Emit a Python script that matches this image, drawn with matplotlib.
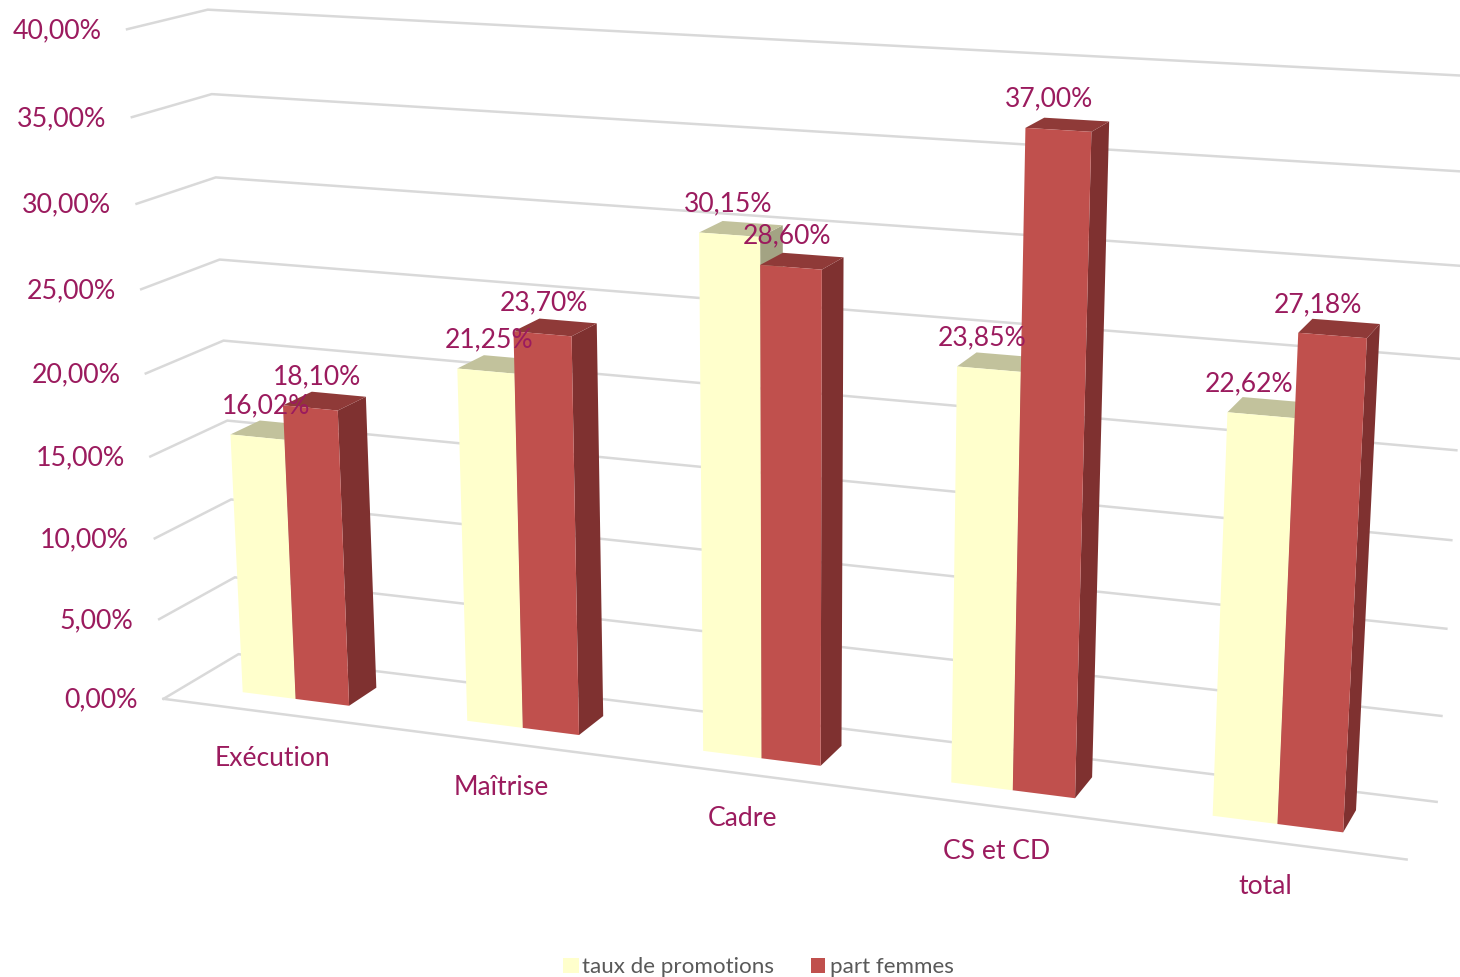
import numpy as np
import matplotlib
matplotlib.use("Agg")
import matplotlib.pyplot as plt
from matplotlib.patches import Polygon, Rectangle

categories = ["Exécution", "Maîtrise", "Cadre", "CS et CD", "total"]
taux_promotions = [16.02, 21.25, 30.15, 23.85, 22.62]
part_femmes = [18.10, 23.70, 28.60, 37.00, 27.18]
tick_values = [0, 5, 10, 15, 20, 25, 30, 35, 40]
series_names = ["taux de promotions", "part femmes"]

TEXT = "#9B1B5E"
plt.rcParams["font.family"] = ["Lato", "DejaVu Sans"]

# perspective camera of the 3-D chart: (u across, d into depth, v value) -> pixel
calib = [
    ((0, 0, 0), (163, 700)), ((1, 0, 0), (1407, 860)),
    ((0, 1, 0), (240, 655)), ((1, 1, 0), (1437, 803)),
    ((0, 1, 40), (208, 10)), ((0, 0, 40), (128, 31)),
    ((1, 1, 40), (1478, 77)), ((0, 1, 20), (222, 342)),
    ((0, 0, 20), (145, 374)), ((1, 1, 20), (1455, 452)),
]
A, b = [], []
for (u, d, v), (px, py) in calib:
    A.append([u, d, v, 1, 0, 0, 0, 0, -px*u, -px*d, -px*v])
    A.append([0, 0, 0, 0, u, d, v, 1, -py*u, -py*d, -py*v])
    b += [px, py]
p = np.linalg.lstsq(np.array(A, float), np.array(b, float), rcond=None)[0]
P = np.append(p, 1).reshape(3, 4)

def proj(u, d, v):
    x, y, w = P @ np.array([u, d, v, 1.0])
    return x / w, y / w

fig = plt.figure(figsize=(14.6, 9.78), dpi=100)
ax = fig.add_axes([0, 0, 1, 1])
ax.set_xlim(0, 1460)
ax.set_ylim(978, 0)
ax.axis("off")

GRID = "#D9D9D9"
for t in tick_values:
    pts = [proj(0, 0, t), proj(0, 1, t), proj(1, 1, t)]
    ax.plot(*zip(*pts), color=GRID, lw=1.8, zorder=1, solid_joinstyle="miter")
    x, y = proj(0, 0, t)
    ax.text(x - 25.5, y + 0.3, f"{t:.2f}%".replace(".", ","), ha="right", va="center",
            fontsize=19.3, color=TEXT, zorder=5)
ax.plot(*zip(proj(0, 0, 0), proj(1, 0, 0)), color=GRID, lw=1.8, zorder=1)

BW, D0, D1 = 0.048, 0.30, 0.69
faces = [("#FFFFCC", "#A3A383", "#C2C29C"), ("#C0504D", "#7F3130", "#8F3A38")]

def bar(u0, u1, val, cols, z):
    front, side, top = cols
    ax.add_patch(Polygon([proj(u1, D0, 0), proj(u1, D1, 0), proj(u1, D1, val), proj(u1, D0, val)],
                         fc=side, ec="none", zorder=z))
    ax.add_patch(Polygon([proj(u0, D0, val), proj(u1, D0, val), proj(u1, D1, val), proj(u0, D1, val)],
                         fc=top, ec="none", zorder=z))
    ax.add_patch(Polygon([proj(u0, D0, 0), proj(u1, D0, 0), proj(u1, D0, val), proj(u0, D0, val)],
                         fc=front, ec="none", zorder=z))

for i, cat in enumerate(categories):
    uc = (i + 0.5) / len(categories) - 0.0005
    bar(uc - BW, uc, taux_promotions[i], faces[0], 2 + i)
    bar(uc, uc + BW, part_femmes[i], faces[1], 2.5 + i)
    for u0, val, shift in ((uc - BW, taux_promotions[i], 2.5), (uc, part_femmes[i], 0)):
        x, y = proj(u0 + BW / 2, D0, val)
        ax.text(x + 9 - 26 * uc + shift, y - 32, f"{val:.2f}%".replace(".", ","), ha="center", va="center",
                fontsize=19.1, color=TEXT, zorder=10)
    x, y = proj(uc, 0, 0)
    ax.text(x - 1.5, y + 44, cat, ha="center", va="center", fontsize=19.1, color=TEXT, zorder=10)

ax.add_patch(Rectangle((563, 959), 16, 15, fc=faces[0][0], ec="none"))
ax.add_patch(Rectangle((811, 959), 14, 15, fc=faces[1][0], ec="none"))
ax.text(582, 967, series_names[0], ha="left", va="center", fontsize=16.1, color="#595959")
ax.text(830, 967, series_names[1], ha="left", va="center", fontsize=16.1, color="#595959")

fig.savefig("out.png", dpi=100)
